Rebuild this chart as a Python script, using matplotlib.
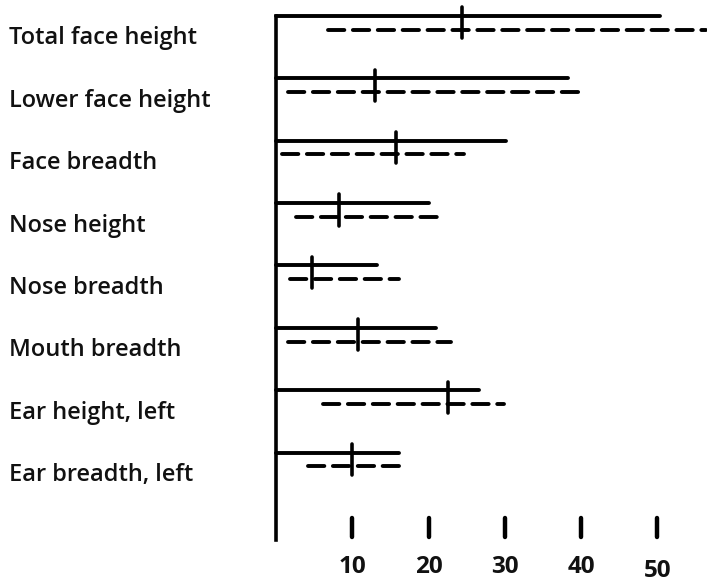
import matplotlib
matplotlib.use("Agg")
import matplotlib.pyplot as plt

categories = ["Total face height", "Lower face height", "Face breadth", "Nose height",
              "Nose breadth", "Mouth breadth", "Ear height, left", "Ear breadth, left"]
solid_end = [50.3, 38.3, 30.1, 20.1, 13.2, 21.0, 26.6, 16.1]
dashed_start = [6.8, 1.6, 0.8, 2.6, 1.8, 1.6, 6.1, 4.2]
dashed_end = [56.4, 39.7, 24.6, 21.4, 16.1, 22.9, 29.9, 16.4]
mean_mark = [24.4, 13.0, 15.7, 8.3, 4.7, 10.7, 22.5, 10.0]
xticks = [10, 20, 30, 40, 50]

plt.rcParams['font.family'] = ['Open Sans', 'DejaVu Sans']

fig = plt.figure(figsize=(7.07, 5.83), dpi=100)
ax = fig.add_axes([0, 0, 1, 1])
ax.set_xlim(-36.2, 56.5)
ax.set_ylim(9.09, -0.256)
ax.axis('off')

off = 0.22
lw = 2.8
for i, name in enumerate(categories):
    ax.plot([0, solid_end[i]], [i, i], color='black', lw=lw, solid_capstyle='round')
    ax.plot([dashed_start[i], dashed_end[i]], [i + off, i + off], color='black', lw=lw,
            linestyle=(0, (4.2, 2.2)), dash_capstyle='round')
    ax.plot([mean_mark[i], mean_mark[i]], [i - 0.14, i + off + 0.14], color='black',
            lw=2.6, solid_capstyle='round')
    ax.text(-35.0, i + 0.36, name, fontsize=17, va='center', ha='left', color='#111111',
            fontweight='semibold')

ax.plot([0, 0], [0, 8.4], color='black', lw=2.6)
for t in xticks:
    ax.plot([t, t], [8.05, 8.35], color='black', lw=3.2, solid_capstyle='round')
    ax.text(t, 8.93 + (0.07 if t == 50 else 0), str(t), fontsize=17.5, ha='center',
            va='baseline', fontweight='bold', color='#111111')

fig.savefig("out.png", dpi=100)
